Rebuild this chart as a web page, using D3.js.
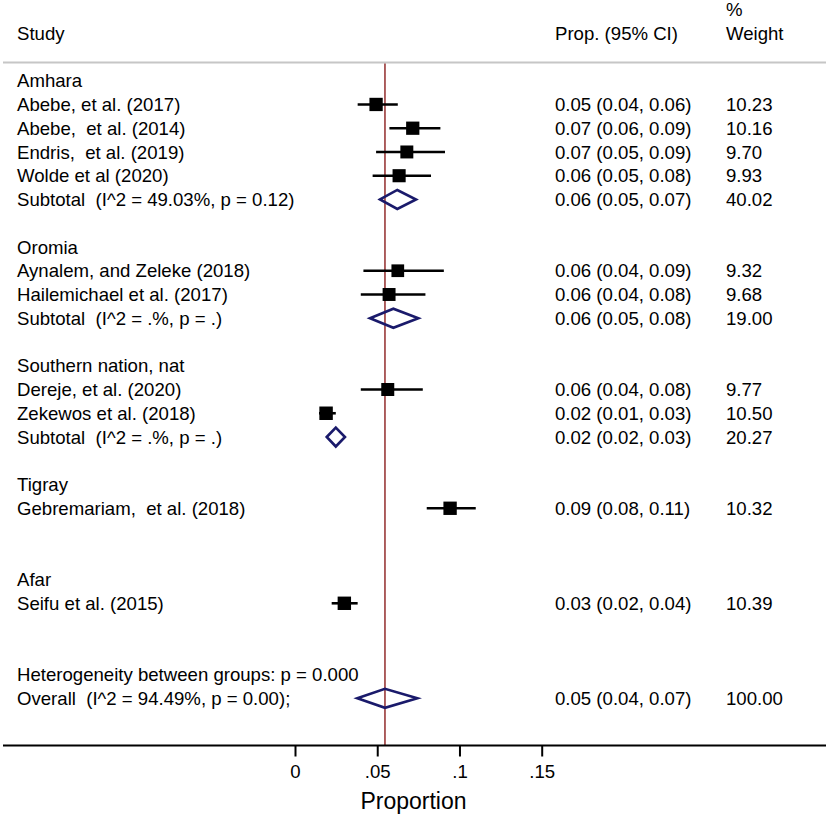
<!DOCTYPE html>
<html>
<head>
<meta charset="utf-8">
<script src="https://cdn.jsdelivr.net/npm/d3@7"></script>
<style>
  body { margin: 0; background: #fff; }
  svg text { font-family: "Liberation Sans", Arial, sans-serif; white-space: pre; fill: #000; }
</style>
</head>
<body>
<div id="forest"></div>
<script>
// subgroup headings and the row they sit on
const groups = ["Amhara", "Oromia", "Southern nation, nat", "Tigray", "Afar"];
const groupRow = [0, 7, 12, 17, 21];

// individual studies
const studies = [
    "Abebe, et al. (2017)", "Abebe,  et al. (2014)", "Endris,  et al. (2019)", "Wolde et al (2020)",
    "Aynalem, and Zeleke (2018)", "Hailemichael et al. (2017)",
    "Dereje, et al. (2020)", "Zekewos et al. (2018)",
    "Gebremariam,  et al. (2018)",
    "Seifu et al. (2015)"
];
const studyRow = [1, 2, 3, 4, 8, 9, 13, 14, 18, 22];
const studyEst = [0.0493, 0.0716, 0.0680, 0.0633, 0.0625, 0.0572, 0.0564, 0.0189, 0.0943, 0.0300];
const studyLo = [0.0381, 0.0574, 0.0493, 0.0472, 0.0416, 0.0400, 0.0400, 0.0146, 0.0801, 0.0223];
const studyHi = [0.0625, 0.0884, 0.0912, 0.0827, 0.0905, 0.0793, 0.0777, 0.0248, 0.1099, 0.0381];
const studyWeight = [10.23, 10.16, 9.70, 9.93, 9.32, 9.68, 9.77, 10.50, 10.32, 10.39];
const studyCI = [
    "0.05 (0.04, 0.06)", "0.07 (0.06, 0.09)", "0.07 (0.05, 0.09)", "0.06 (0.05, 0.08)",
    "0.06 (0.04, 0.09)", "0.06 (0.04, 0.08)",
    "0.06 (0.04, 0.08)", "0.02 (0.01, 0.03)",
    "0.09 (0.08, 0.11)",
    "0.03 (0.02, 0.04)"
];

// pooled estimates (subtotals + overall)
const pooled = [
    "Subtotal  (I^2 = 49.03%, p = 0.12)",
    "Subtotal  (I^2 = .%, p = .)",
    "Subtotal  (I^2 = .%, p = .)",
    "Overall  (I^2 = 94.49%, p = 0.00);"
];
const pooledRow = [5, 10, 15, 26];
const pooledEst = [0.0622, 0.0598, 0.0248, 0.0547];
const pooledLo = [0.0517, 0.0456, 0.0193, 0.0379];
const pooledHi = [0.0736, 0.0750, 0.0304, 0.0744];
const pooledWeight = [40.02, 19.00, 20.27, 100.00];
const pooledCI = ["0.06 (0.05, 0.07)", "0.06 (0.05, 0.08)", "0.02 (0.02, 0.03)", "0.05 (0.04, 0.07)"];

const notes = ["Heterogeneity between groups: p = 0.000"];
const noteRow = [25];

const xTicks = [0, 0.05, 0.1, 0.15];
const xTickLabels = ["0", ".05", ".1", ".15"];

const width = 829, height = 818;
const fontSize = 18.6;
const nRows = 27;

const svg = d3.select("#forest").append("svg")
    .attr("width", width)
    .attr("height", height);

const x = d3.scaleLinear()
    .domain([0, 0.15])
    .range([295, 541.7]);

const y = d3.scaleLinear()
    .domain([0, nRows - 1])
    .range([80.7, 698.3]);

const baseShift = 6.6;
const col = { study: 17, ci: 555, weight: 726 };
const fmtW = d3.format(".2f");

// header
svg.append("text").attr("x", col.study).attr("y", 40).style("font-size", fontSize + "px").text("Study");
svg.append("text").attr("x", col.ci).attr("y", 40).style("font-size", fontSize + "px").text("Prop. (95% CI)");
svg.append("text").attr("x", col.weight).attr("y", 16).style("font-size", fontSize + "px").text("%");
svg.append("text").attr("x", col.weight).attr("y", 40).style("font-size", fontSize + "px").text("Weight");

svg.append("line")
    .attr("x1", 3).attr("x2", 826)
    .attr("y1", 62.5).attr("y2", 62.5)
    .attr("stroke", "#c6c6c6")
    .attr("stroke-width", 2);

// overall reference line
const axisY = 745.5;
svg.append("line")
    .attr("x1", x(pooledEst[3])).attr("x2", x(pooledEst[3]))
    .attr("y1", 63.5).attr("y2", axisY)
    .attr("stroke", "#993939")
    .attr("stroke-width", 1.6);

// left column labels
const leftLabels = [];
groups.forEach((g, i) => leftLabels.push({ t: g, r: groupRow[i] }));
studies.forEach((s, i) => leftLabels.push({ t: s, r: studyRow[i] }));
pooled.forEach((s, i) => leftLabels.push({ t: s, r: pooledRow[i] }));
notes.forEach((s, i) => leftLabels.push({ t: s, r: noteRow[i] }));

svg.append("g").selectAll("text")
    .data(leftLabels)
    .join("text")
    .attr("x", col.study)
    .attr("y", d => y(d.r) + baseShift)
    .style("font-size", fontSize + "px")
    .text(d => d.t);

// right columns
const rightRows = studies.map((s, i) => ({ r: studyRow[i], ci: studyCI[i], w: studyWeight[i] }))
    .concat(pooled.map((s, i) => ({ r: pooledRow[i], ci: pooledCI[i], w: pooledWeight[i] })));

const right = svg.append("g");
right.selectAll(".ci")
    .data(rightRows)
    .join("text")
    .attr("class", "ci")
    .attr("x", col.ci)
    .attr("y", d => y(d.r) + baseShift)
    .style("font-size", fontSize + "px")
    .text(d => d.ci);
right.selectAll(".wt")
    .data(rightRows)
    .join("text")
    .attr("class", "wt")
    .attr("x", col.weight)
    .attr("y", d => y(d.r) + baseShift)
    .style("font-size", fontSize + "px")
    .text(d => fmtW(d.w));

// study CIs and squares
const studyData = studies.map((s, i) => ({
    r: studyRow[i], est: studyEst[i], lo: studyLo[i], hi: studyHi[i], w: studyWeight[i]
}));
const side = d3.scaleSqrt().domain([0, 10.23]).range([0, 13.3]);

const marks = svg.append("g");
marks.selectAll(".ciline")
    .data(studyData)
    .join("line")
    .attr("class", "ciline")
    .attr("x1", d => x(d.lo)).attr("x2", d => x(d.hi))
    .attr("y1", d => y(d.r)).attr("y2", d => y(d.r))
    .attr("stroke", "#000")
    .attr("stroke-width", 2.6);
marks.selectAll(".box")
    .data(studyData)
    .join("rect")
    .attr("class", "box")
    .attr("x", d => x(d.est) - side(d.w) / 2)
    .attr("y", d => y(d.r) - side(d.w) / 2)
    .attr("width", d => side(d.w))
    .attr("height", d => side(d.w))
    .attr("fill", "#000");

// pooled diamonds
const pooledData = pooled.map((s, i) => ({ r: pooledRow[i], est: pooledEst[i], lo: pooledLo[i], hi: pooledHi[i] }));
const halfH = 9.5;
marks.selectAll(".diamond")
    .data(pooledData)
    .join("path")
    .attr("class", "diamond")
    .attr("d", d => {
        const cy = y(d.r);
        return `M${x(d.lo)},${cy}L${x(d.est)},${cy - halfH}L${x(d.hi)},${cy}L${x(d.est)},${cy + halfH}Z`;
    })
    .attr("fill", "none")
    .attr("stroke", "#1a1a6b")
    .attr("stroke-width", 2.6)
    .attr("stroke-linejoin", "miter");

// x axis
svg.append("line")
    .attr("x1", 3).attr("x2", 826)
    .attr("y1", axisY).attr("y2", axisY)
    .attr("stroke", "#000")
    .attr("stroke-width", 2);

const axis = svg.append("g")
    .attr("transform", `translate(0,${axisY})`)
    .call(d3.axisBottom(x)
        .tickValues(xTicks)
        .tickFormat((d, i) => xTickLabels[i])
        .tickSize(11)
        .tickPadding(8));
axis.select(".domain").remove();
axis.selectAll(".tick line").attr("stroke", "#000").attr("stroke-width", 2);
axis.selectAll(".tick text")
    .style("font-size", fontSize + "px")
    .style("font-family", "'Liberation Sans', Arial, sans-serif")
    .attr("fill", "#000");

svg.append("text")
    .attr("x", 413.5)
    .attr("y", 809.3)
    .attr("text-anchor", "middle")
    .style("font-size", "23px")
    .text("Proportion");
</script>
</body>
</html>
